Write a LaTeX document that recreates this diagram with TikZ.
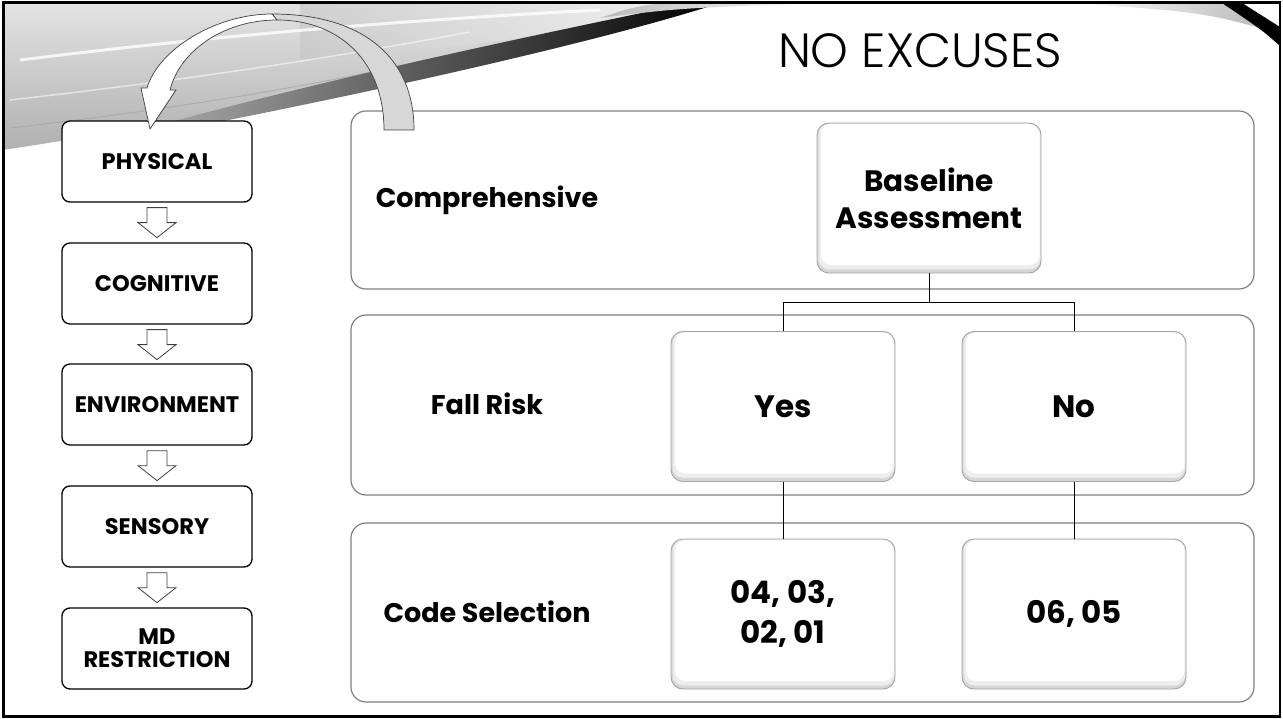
\documentclass[tikz,border=0pt]{standalone}
\usepackage{fontspec}
\setmainfont{Poppins}
\newfontfamily\titlefont{Poppins Light}
\usetikzlibrary{calc}
\definecolor{panelgray}{RGB}{128,128,128}
\definecolor{boxgray}{RGB}{165,165,165}
\definecolor{arrowgray}{RGB}{64,64,64}
\definecolor{backarrow}{RGB}{215,215,215}
\begin{document}
\begin{tikzpicture}[x=1pt,y=-1pt,
  leftbox/.style={draw=black, line width=1.3pt, rounded corners=8pt, fill=white,
    minimum width=190pt, minimum height=81pt, inner sep=2pt, align=center,
    font=\bfseries\fontsize{22.5}{23}\selectfont},
  panel/.style={draw=panelgray, line width=1.2pt, rounded corners=15pt, fill=white,
    minimum width=903pt},
  innerbox/.style={draw=boxgray, line width=0.9pt, rounded corners=12pt,
    minimum width=224pt, minimum height=150pt, align=center,
    font=\bfseries\fontsize{31}{40}\selectfont, fill=gray!32,
    path picture={
      \fill[gray!14, rounded corners=11pt]
        ($(path picture bounding box.north west)+(1.5,0.5)$) rectangle
        ($(path picture bounding box.south east)+(-0.5,-3.5)$);
      \fill[white, rounded corners=10pt]
        ($(path picture bounding box.north west)+(4,1)$) rectangle
        ($(path picture bounding box.south east)+(-1.5,-8)$);
    }},
  rowlabel/.style={font=\bfseries\fontsize{27}{30}\selectfont},
  link/.style={draw=black, line width=1pt},
  downarrow/.style={draw=arrowgray, line width=0.8pt, fill=white, line join=miter}
]
\useasboundingbox (0,0) rectangle (1283,719);
\fill[white] (0,0) rectangle (1283,719);

% decorative swoosh (top left)
\shade[top color=gray!22, bottom color=gray!62]
  (3,3) -- (720,3) .. controls (560,45) and (330,100) .. (3,150) -- cycle;
\shade[left color=gray!45, right color=white, opacity=0.6]
  (300,3) -- (720,3) .. controls (600,30) and (450,50) .. (300,60) -- cycle;
\draw[white, line width=3pt, opacity=0.8] (20,60) .. controls (150,44) and (330,24) .. (600,10);
\draw[white, line width=1.5pt, opacity=0.55] (10,100) .. controls (150,84) and (300,64) .. (470,32);
\draw[gray!75, line width=1pt, opacity=0.6] (10,128) .. controls (150,112) and (280,92) .. (420,62);
\shade[left color=gray!60, right color=black]
  (120,136) .. controls (300,85) and (500,42) .. (690,3) -- (720,3)
  .. controls (600,42) and (350,98) .. (120,141) -- cycle;
\shade[left color=gray!55, right color=white]
  (600,18) .. controls (680,8) .. (830,3) -- (660,3) .. controls (630,8) .. (600,18);
% decorative swoosh (top right)
\shade[left color=white, right color=gray!55]
  (1070,3) -- (1226,3) -- (1268,30) .. controls (1200,12) .. (1070,3);
\fill[black] (1222,3) -- (1242,3) -- (1280,27) -- (1280,46) .. controls (1262,30) .. (1222,3);

% title
\node[font=\titlefont\fontsize{48}{50}\selectfont] (title) at (920,51) {NO EXCUSES};

% left column
\node[leftbox] (phys) at (157,161.5) {PHYSICAL};
\node[leftbox] (cogn) at (157,283.5) {COGNITIVE};
\node[leftbox] (env)  at (157,404.5) {ENVIRONMENT};
\node[leftbox] (sens) at (157,526.5) {SENSORY};
\node[leftbox] (md)   at (157,648.5) {MD\\RESTRICTION};

\foreach \a/\b in {phys/cogn, cogn/env, env/sens, sens/md}{
  \draw[downarrow] ($(\a.south)+(-10,5)$) -- ($(\a.south)+(10,5)$)
    -- ($(\a.south)+(10,20)$) -- ($(\a.south)+(19,20)$)
    -- ($(\a.south)+(0,35)$) -- ($(\a.south)+(-19,20)$)
    -- ($(\a.south)+(-10,20)$) -- cycle;
}

% right panels
\node[panel, minimum height=178pt] (p1) at (802.5,200) {};
\node[panel, minimum height=180pt] (p2) at (802.5,405) {};
\node[panel, minimum height=179pt] (p3) at (802.5,612.5) {};

\node[rowlabel] (l1) at (487,200) {Comprehensive};
\node[rowlabel] (l2) at (487,404) {Fall Risk};
\node[rowlabel] (l3) at (487,612) {Code Selection};

\node[innerbox, font=\bfseries\fontsize{29.5}{37}\selectfont] (base) at (929,198) {Baseline\\Assessment};
\node[innerbox] (yes) at (783,406.5) {Yes};
\node[innerbox] (no)  at (1074,406.5) {No};
\node[innerbox] (c1)  at (783,614) {04, 03,\\02, 01};
\node[innerbox] (c2)  at (1074,614) {06, 05};

% connectors
\draw[link] (base.south) -- ++(0,29) coordinate (split);
\draw[link] (yes.north) |- (split) -| (no.north);
\draw[link] (yes.south) -- (c1.north);
\draw[link] (no.south) -- (c2.north);

% curved arrow from the panels back to PHYSICAL
\filldraw[fill=backarrow, draw=arrowgray, line width=0.7pt]
  (414,130) .. controls (414,55) and (360,14) .. (272,14)
  -- (277,20) .. controls (340,20) and (384,62) .. (384,130) -- cycle;
\filldraw[fill=white, draw=arrowgray, line width=0.7pt, line join=miter]
  (272,14) .. controls (215,14) and (158,50) .. (147,88)
  -- (141,88) -- (150,129) -- (176,90) -- (170,90)
  .. controls (180,50) and (225,20) .. (277,20) -- cycle;

% slide frame
\draw[black, line width=2.5pt] (3.5,2.5) rectangle (1280,716.5);
\end{tikzpicture}
\end{document}
